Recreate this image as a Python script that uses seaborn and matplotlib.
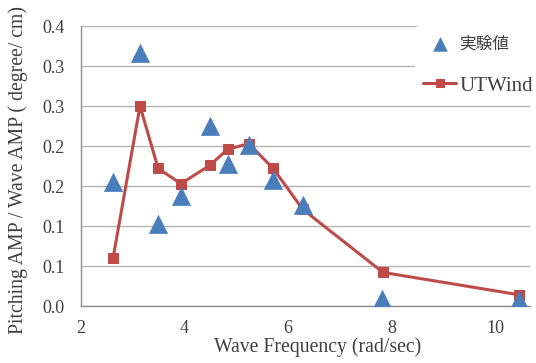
import matplotlib
matplotlib.use("Agg")
import matplotlib.pyplot as plt
import seaborn as sns
import pandas as pd
from matplotlib.ticker import MultipleLocator, FormatStrFormatter

# data
freq_exp = [2.62, 3.14, 3.49, 3.93, 4.49, 4.84, 5.24, 5.71, 6.28, 7.81, 10.46]
amp_exp = [0.155, 0.317, 0.103, 0.137, 0.225, 0.178, 0.201, 0.158, 0.126, 0.009, 0.008]

freq_utw = [2.62, 3.14, 3.49, 3.93, 4.49, 4.83, 5.24, 5.71, 6.28, 7.83, 10.46]
amp_utw = [0.060, 0.250, 0.172, 0.153, 0.176, 0.196, 0.203, 0.172, 0.121, 0.042, 0.014]

label_exp = "実験値"
label_utw = "UTWind"

blue = "#4A7EBB"
red = "#BE4B48"
text_col = "#404040"

sns.set_style("white")
plt.rcParams['font.family'] = ['Liberation Serif', 'Noto Sans CJK JP']

fig = plt.figure(figsize=(5.36, 3.63), dpi=100)
ax = fig.add_axes([0.151, 0.157, 0.838, 0.771])

df_exp = pd.DataFrame({"freq": freq_exp, "amp": amp_exp})
df_utw = pd.DataFrame({"freq": freq_utw, "amp": amp_utw})

sns.lineplot(data=df_utw, x="freq", y="amp", ax=ax, color=red, lw=2.2,
             marker="s", markersize=7.5, markeredgecolor=red, label=label_utw,
             zorder=3)
sns.scatterplot(data=df_exp, x="freq", y="amp", ax=ax, color=blue, marker="^",
                s=170, edgecolor=blue, linewidth=0.5, label=label_exp, zorder=4)

ax.set_xlim(2, 10.67)
ax.set_ylim(0, 0.35)
ax.xaxis.set_major_locator(MultipleLocator(2))
ax.yaxis.set_major_locator(MultipleLocator(0.05))
ax.yaxis.set_major_formatter(FormatStrFormatter("%.1f"))
ax.grid(axis="y", color="#b4b4b4", lw=1)
ax.set_axisbelow(True)

for s in ["top", "right"]:
    ax.spines[s].set_visible(False)
for s in ["left", "bottom"]:
    ax.spines[s].set_color("#909090")
    ax.spines[s].set_linewidth(1)

ax.tick_params(axis="both", labelsize=13, colors=text_col, length=4,
               color="#909090", direction="out")
ax.tick_params(axis="y", pad=8)
ax.tick_params(axis="x", pad=6)

ax.set_xlabel("Wave Frequency (rad/sec)", fontsize=14.2, color=text_col)
ax.set_ylabel("Pitching AMP / Wave AMP ( degree/ cm)", fontsize=14.2, color=text_col)
ax.xaxis.set_label_coords(0.527, -0.112)
ax.yaxis.set_label_coords(-0.118, 0.486)

handles, labels = ax.get_legend_handles_labels()
order = [labels.index(label_exp), labels.index(label_utw)]
leg = ax.legend([handles[i] for i in order], [labels[i] for i in order],
                loc="upper left", bbox_to_anchor=(0.743, 1.0), frameon=True,
                fontsize=15, handlelength=1.6, labelspacing=1.1,
                handletextpad=0.15, borderaxespad=0.0, markerscale=0.75)
leg.get_frame().set_facecolor("white")
leg.get_frame().set_edgecolor("none")
leg.get_frame().set_alpha(1)
for t in leg.get_texts():
    t.set_color(text_col)
leg.get_texts()[0].set_fontsize(12)

fig.savefig("out.png", dpi=100)
plt.close(fig)
